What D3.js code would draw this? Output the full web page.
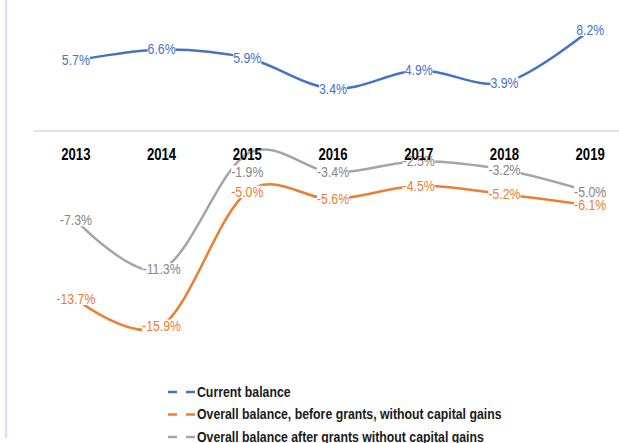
<!DOCTYPE html>
<html>
<head>
<meta charset="utf-8">
<script src="https://cdn.jsdelivr.net/npm/d3@7"></script>
<style>
  html, body { margin: 0; padding: 0; background: #fff; }
  svg { display: block; }
</style>
</head>
<body>
<svg id="chart" width="619" height="443"></svg>
<script>
const years = ["2013", "2014", "2015", "2016", "2017", "2018", "2019"];
const currentBalance = [5.7, 6.6, 5.9, 3.4, 4.9, 3.9, 8.2];
const overallBeforeGrants = [-13.7, -15.9, -5.0, -5.6, -4.5, -5.2, -6.1];
const overallAfterGrants = [-7.3, -11.3, -1.9, -3.4, -2.5, -3.2, -5.0];
const seriesNames = [
  "Current balance",
  "Overall balance, before grants, without capital gains",
  "Overall balance after grants without capital gains"
];

const series = [
  { name: seriesNames[0], values: currentBalance, color: "#4472C4", label: "#4472C4" },
  { name: seriesNames[1], values: overallBeforeGrants, color: "#ED7D31", label: "#ED7D31" },
  { name: seriesNames[2], values: overallAfterGrants, color: "#A5A5A5", label: "#858585" }
];

const svg = d3.select("#chart");
const font = "'Liberation Sans Narrow', 'Liberation Sans', Arial, sans-serif";
const SX = 0.82; // condensed look

// left border line
svg.append("line")
  .attr("x1", 6).attr("x2", 6).attr("y1", 0).attr("y2", 438)
  .attr("stroke", "#dae3f3").attr("stroke-width", 2.5);

const x = d3.scaleBand().domain(years).range([33, 633]);
const cx = d => x(d) + x.bandwidth() / 2;
const y = d3.scaleLinear().domain([-20, 10]).range([130.5 + 20 * 12.28, 130.5 - 10 * 12.28]);

// category axis at zero
const xAxis = d3.axisBottom(x).tickSize(0).tickPadding(0);
const axisG = svg.append("g").attr("transform", `translate(0,${y(0)})`).call(xAxis);
axisG.select(".domain").attr("stroke", "#d9d9d9").attr("stroke-width", 1.5);
axisG.selectAll(".tick text").remove();

const line = d3.line()
  .x((d, i) => cx(years[i]))
  .y(d => y(d))
  .curve(d3.curveCatmullRom.alpha(0));

series.forEach(s => {
  svg.append("path")
    .datum(s.values)
    .attr("fill", "none")
    .attr("stroke", s.color)
    .attr("stroke-width", 2.5)
    .attr("stroke-linecap", "round")
    .attr("d", line);
});

// data labels
const fmt = v => v.toFixed(1) + "%";
series.forEach((s, si) => {
  s.values.forEach((v, i) => {
    let dy = 0;
    if (si === 2 && years[i] === "2015") dy = 18;
    const g = svg.append("g")
      .attr("transform", `translate(${cx(years[i])},${y(v) + dy}) scale(${SX},1)`);
    const t = g.append("text")
      .attr("text-anchor", "middle")
      .attr("dominant-baseline", "central")
      .attr("font-family", font)
      .attr("font-size", 15)
      .attr("fill", s.label)
      .text(fmt(v));
    const bb = t.node().getBBox();
    g.insert("rect", "text")
      .attr("x", bb.x).attr("y", bb.y + 2)
      .attr("width", bb.width).attr("height", bb.height - 4)
      .attr("fill", "#fff");
  });
});

// category labels
svg.append("g").selectAll("text")
  .data(years)
  .join("text")
  .attr("transform", d => `translate(${cx(d)},155) scale(${SX},1)`)
  .attr("text-anchor", "middle")
  .attr("dominant-baseline", "central")
  .attr("font-family", font)
  .attr("font-weight", "bold")
  .attr("font-size", 16)
  .attr("fill", "#000")
  .text(d => d);

// legend
const legend = svg.append("g");
series.forEach((s, i) => {
  const ly = 392 + i * 22.5;
  legend.append("line")
    .attr("x1", 168).attr("x2", 195)
    .attr("y1", ly).attr("y2", ly)
    .attr("stroke", s.color).attr("stroke-width", 2.5)
    .attr("stroke-dasharray", "9,9");
  legend.append("text")
    .attr("transform", `translate(197,${ly}) scale(${SX},1)`)
    .attr("dominant-baseline", "central")
    .attr("font-family", font)
    .attr("font-weight", "bold")
    .attr("font-size", 15)
    .attr("fill", "#1a1a1a")
    .text(s.name);
});
</script>
</body>
</html>
